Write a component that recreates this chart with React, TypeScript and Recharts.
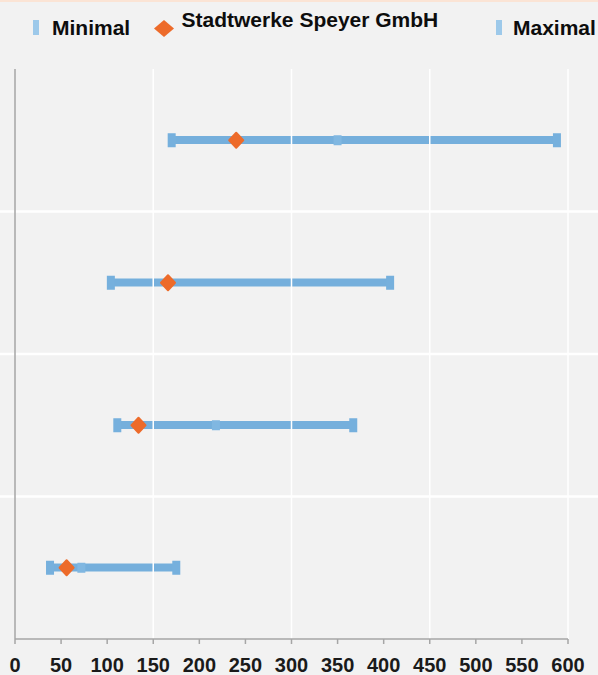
import React from "react";
import {
  ComposedChart,
  Bar,
  Line,
  XAxis,
  YAxis,
  ReferenceLine,
  ReferenceArea,
} from "recharts";

const categories = ["Kategorie 1", "Kategorie 2", "Kategorie 3", "Kategorie 4"];
const minValues = [170, 104, 111, 38];
const companyValues = [240, 166, 134, 56];
const maxValues = [588, 407, 367, 175];
const meanValues: (number | null)[] = [350, null, 218, 72];
const xTicks = [0, 50, 100, 150, 200, 250, 300, 350, 400, 450, 500, 550, 600];
const gridValues = [150, 300, 450, 600];
const separatorCategories = [categories[1], categories[2], categories[3]];
const seriesNames = ["Minimal", "Stadtwerke Speyer GmbH", "Maximal"];

const data = categories.map((name, i) => ({
  name,
  range: [minValues[i], maxValues[i]],
  min: minValues[i],
  max: maxValues[i],
  company: companyValues[i],
  mean: meanValues[i],
}));

const BLUE = "#75afdc";
const CAP_BLUE = "#76b0dd";
const MEAN_BLUE = "#80b7e1";
const ORANGE = "#ed6b2a";
const LEGEND_BLUE = "#9dc9ea";
const AXIS_GRAY = "#a6a6a6";
const FONT = "'Liberation Sans', Arial, sans-serif";

const CapDot = (props: any) => {
  const { cx, cy } = props;
  if (cx == null || cy == null) return null;
  return <rect x={cx - 4} y={cy - 7} width={8} height={14} fill={CAP_BLUE} />;
};

const MeanDot = (props: any) => {
  const { cx, cy, value } = props;
  if (cx == null || cy == null || value == null) return null;
  return <rect x={cx - 4} y={cy - 5} width={8} height={10} fill={MEAN_BLUE} />;
};

const DiamondDot = (props: any) => {
  const { cx, cy } = props;
  if (cx == null || cy == null) return null;
  const w = 7;
  const h = 7.5;
  return (
    <polygon
      points={`${cx - w},${cy} ${cx},${cy - h} ${cx + w},${cy} ${cx},${cy + h}`}
      fill={ORANGE}
      stroke={ORANGE}
      strokeWidth={2}
      strokeLinejoin="round"
    />
  );
};

// draws the band's upper edge as a white separator across the full width
const SeparatorShape = (props: any) => {
  const { y } = props;
  if (y == null) return null;
  return <line x1={0} x2={598} y1={y} y2={y} stroke="#ffffff" strokeWidth={2.5} />;
};

const LegendBlock = () => (
  <svg width={598} height={50} style={{ position: "absolute", left: 0, top: 0, display: "block" }}>
    <rect x={33} y={20} width={6} height={15} fill={LEGEND_BLUE} />
    <text x={52} y={34.5} fontFamily={FONT} fontWeight="bold" fontSize={21} fill="#0d0d0d">
      {seriesNames[0]}
    </text>
    <polygon points="154,28.5 164,20 174,28.5 164,37" fill={ORANGE} />
    <text x={181.5} y={26.7} fontFamily={FONT} fontWeight="bold" fontSize={21} fill="#0d0d0d">
      {seriesNames[1]}
    </text>
    <rect x={496} y={20} width={6} height={15} fill={LEGEND_BLUE} />
    <text x={513} y={34.5} fontFamily={FONT} fontWeight="bold" fontSize={21} fill="#0d0d0d">
      {seriesNames[2]}
    </text>
  </svg>
);

export default function App() {
  return (
    <div
      style={{
        position: "fixed",
        left: 0,
        top: 0,
        width: 598,
        height: 675,
        background: "#f2f2f2",
        overflow: "hidden",
      }}
    >
      <div style={{ position: "absolute", left: 0, top: 0, width: 598, height: 2, background: "#fbe4d5" }} />
      <div style={{ position: "absolute", left: 0, top: 0 }}>
        <ComposedChart
          width={598}
          height={675}
          data={data}
          layout="vertical"
          margin={{ top: 69, right: 30, bottom: 0, left: 15 }}
        >
          <XAxis
            type="number"
            domain={[0, 600]}
            ticks={xTicks}
            interval={0}
            height={36}
            axisLine={{ stroke: AXIS_GRAY, strokeWidth: 1.5 }}
            tickLine={{ stroke: AXIS_GRAY, strokeWidth: 1.5 }}
            tickSize={5}
            tickMargin={14}
            tick={{ fill: "#1a1a1a", fontSize: 20, fontWeight: "bold", fontFamily: FONT }}
          />
          <YAxis type="category" dataKey="name" hide />
          {gridValues.map((v) => (
            <ReferenceLine key={`g${v}`} x={v} stroke="#ffffff" strokeWidth={1.5} />
          ))}
          {separatorCategories.map((c) => (
            <ReferenceArea
              key={`s${c}`}
              y1={c}
              y2={c}
              ifOverflow="visible"
              shape={SeparatorShape}
            />
          ))}
          <ReferenceLine x={0} stroke={AXIS_GRAY} strokeWidth={1.5} />
          <Bar dataKey="range" barSize={8} fill={BLUE} isAnimationActive={false} />
          <Line dataKey="mean" stroke="none" dot={MeanDot} activeDot={false} isAnimationActive={false} />
          <Line dataKey="min" stroke="none" dot={CapDot} activeDot={false} isAnimationActive={false} />
          <Line dataKey="max" stroke="none" dot={CapDot} activeDot={false} isAnimationActive={false} />
          <Line dataKey="company" stroke="none" dot={DiamondDot} activeDot={false} isAnimationActive={false} />
        </ComposedChart>
      </div>
      <LegendBlock />
    </div>
  );
}
